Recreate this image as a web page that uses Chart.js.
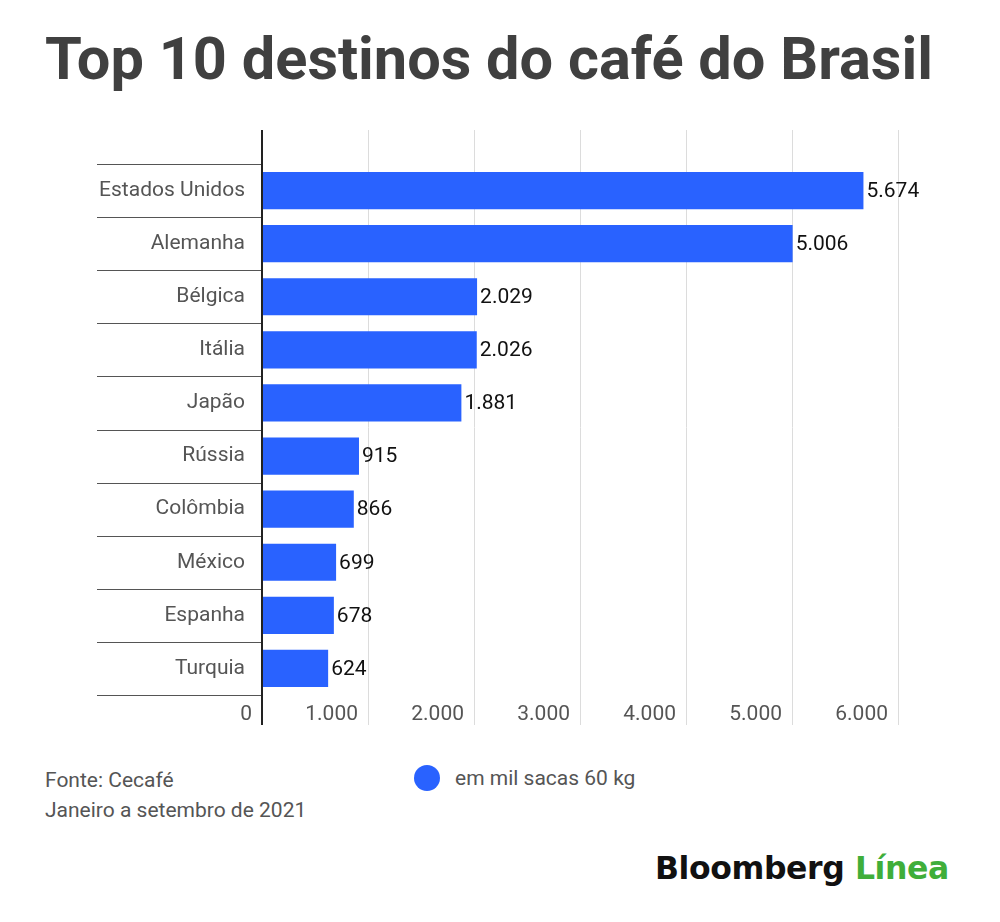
<!DOCTYPE html>
<html>
<head>
<meta charset="utf-8">
<script src="https://cdn.jsdelivr.net/npm/chart.js@4"></script>
<style>
  html, body { margin:0; padding:0; background:#fff; }
  body { width:1000px; height:922px; position:relative; overflow:hidden; font-family: Roboto, "Noto Sans", sans-serif; }
  #title { position:absolute; left:45px; top:24px; font-size:59.5px; font-weight:700; color:#404040; white-space:nowrap; letter-spacing:0px; }
  #wrap { position:absolute; left:0; top:100px; width:1000px; height:640px; }
  .foot { position:absolute; left:45px; font-size:21px; color:#555; white-space:nowrap; }
  #legend { position:absolute; left:414px; top:765px; font-size:21px; color:#555; white-space:nowrap; display:flex; align-items:center; }
  #legend .dot { width:26px; height:26px; border-radius:50%; background:#2962ff; margin-right:15px; }
  #logo { position:absolute; left:655px; top:850px; font-family:"DejaVu Sans", sans-serif; font-size:31.5px; font-weight:700; white-space:nowrap; letter-spacing:-0.4px; }
  #logo .b { color:#111; }
  #logo .l { color:#3fae3a; }
</style>
</head>
<body>
<div id="title">Top 10 destinos do café do Brasil</div>
<div id="wrap"><canvas id="c"></canvas></div>
<div class="foot" style="top:768px;">Fonte: Cecafé</div>
<div class="foot" style="top:798px;">Janeiro a setembro de 2021</div>
<div id="legend"><div class="dot"></div><span>em mil sacas 60 kg</span></div>
<div id="logo"><span class="b">Bloomberg</span> <span class="l">Línea</span></div>
<script>
const categories = ["Estados Unidos", "Alemanha", "Bélgica", "Itália", "Japão", "Rússia", "Colômbia", "México", "Espanha", "Turquia"];
const values = [5674, 5006, 2029, 2026, 1881, 915, 866, 699, 678, 624];
const xTicks = [0, 1000, 2000, 3000, 4000, 5000, 6000];
const seriesLabel = "em mil sacas 60 kg";

function fmt(v) {
  return String(v).replace(/\B(?=(\d{3})+(?!\d))/g, ".");
}

const decor = {
  id: 'decor',
  beforeDatasetsDraw(chart) {
    const ctx = chart.ctx, ca = chart.chartArea;
    const xs = chart.scales.x, ys = chart.scales.y;
    const top = ca.top - 34, bottom = ca.bottom + 30;
    ctx.save();
    ctx.strokeStyle = '#dcdcdc';
    ctx.lineWidth = 1;
    xTicks.forEach(t => {
      if (t === 0) return;
      const x = Math.round(xs.getPixelForValue(t)) + 0.5;
      ctx.beginPath(); ctx.moveTo(x, top); ctx.lineTo(x, bottom); ctx.stroke();
    });
    ctx.strokeStyle = '#555';
    ctx.lineWidth = 1;
    const n = categories.length;
    for (let i = 0; i <= n; i++) {
      let y;
      if (i === 0) y = ca.top;
      else if (i === n) y = ca.bottom;
      else y = (ys.getPixelForValue(i - 1) + ys.getPixelForValue(i)) / 2;
      y = Math.round(y) + 0.5;
      ctx.beginPath(); ctx.moveTo(97, y); ctx.lineTo(ca.left, y); ctx.stroke();
    }
    ctx.restore();
  },
  afterDatasetsDraw(chart) {
    const ctx = chart.ctx, ca = chart.chartArea;
    const xs = chart.scales.x;
    ctx.save();
    ctx.strokeStyle = '#222';
    ctx.lineWidth = 2;
    const x0 = xs.getPixelForValue(0);
    ctx.beginPath(); ctx.moveTo(x0, ca.top - 34); ctx.lineTo(x0, ca.bottom + 30); ctx.stroke();
    ctx.fillStyle = '#111';
    ctx.font = '21px Roboto';
    ctx.textBaseline = 'middle';
    ctx.textAlign = 'left';
    const meta = chart.getDatasetMeta(0);
    meta.data.forEach((bar, i) => {
      ctx.fillText(fmt(values[i]), bar.x + 3, bar.y + 1);
    });
    ctx.restore();
  }
};

new Chart(document.getElementById('c'), {
  type: 'bar',
  data: {
    labels: categories,
    datasets: [{
      label: seriesLabel,
      data: values,
      backgroundColor: '#2962ff',
      categoryPercentage: 1.0,
      barPercentage: 0.7
    }]
  },
  options: {
    indexAxis: 'y',
    responsive: true,
    maintainAspectRatio: false,
    animation: false,
    layout: { padding: { top: 64, right: 102, left: 0, bottom: 0 } },
    plugins: { legend: { display: false }, tooltip: { enabled: false } },
    scales: {
      x: {
        min: 0, max: 6000,
        afterBuildTicks(scale) { scale.ticks = xTicks.map(v => ({ value: v })); },
        afterFit(scale) { scale.height = 45; },
        grid: { display: false, drawTicks: false },
        border: { display: false },
        ticks: {
          align: 'end',
          labelOffset: -10,
          padding: 7,
          color: '#555',
          font: { family: 'Roboto', size: 21 },
          callback: v => fmt(v)
        }
      },
      y: {
        afterFit(scale) { scale.width = 262; },
        grid: { display: false, drawTicks: false },
        border: { display: false },
        ticks: {
          padding: 17,
          color: '#555',
          font: { family: 'Roboto', size: 21 }
        }
      }
    }
  },
  plugins: [decor]
});
</script>
</body>
</html>
